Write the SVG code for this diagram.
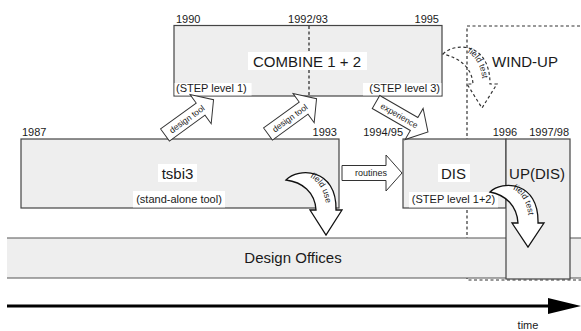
<svg xmlns="http://www.w3.org/2000/svg" xmlns:xlink="http://www.w3.org/1999/xlink" width="581" height="331" viewBox="0 0 581 331">
<style>
text{font-family:"Liberation Sans",Arial,sans-serif;fill:#1a1a1a}
.box{fill:#eeeeee;stroke:#444;stroke-width:1.2}
.big{font-size:15px;text-anchor:middle}
.sm{font-size:11px}
.yr{font-size:11px}
.lbl{font-size:8.5px;text-anchor:middle}
.bg{fill:#ffffff}
.blk{fill:#ffffff;stroke:#333;stroke-width:1}
.crv{fill:#ffffff;stroke:#111;stroke-width:1.3}
.dash{fill:none;stroke:#333;stroke-width:1.2;stroke-dasharray:3 2.5}
</style>
<defs>
<polygon id="blkarrow" points="0,-7.5 44,-7.5 44,-18 60,0 44,18 44,7.5 0,7.5"/>
<path id="pFu" d="M 290,177 C 307,170 326,180 327,214"/>
<path id="pFt1" d="M 494,190 C 510,183 529,191 529,225"/>
<path id="pFt2" d="M 446,52 C 462,45 482,53 483,86"/>
</defs>

<g id="windup">
<rect x="467" y="26" width="120" height="254" fill="#f9f9f9" class="dash"/>
<text class="big" x="525" y="67">WIND-UP</text>
</g>

<g id="combine">
<rect class="box" x="174" y="25.5" width="268" height="70.5"/>
<line x1="309" y1="26" x2="309" y2="95.5" stroke="#222" stroke-width="1.2" stroke-dasharray="3 2.5"/>
<rect class="bg" x="248" y="52" width="119" height="18"/>
<text class="big" x="307" y="67">COMBINE 1 + 2</text>
<rect class="bg" x="174.6" y="83" width="77" height="12.4"/>
<text class="sm" x="176" y="91.5">(STEP level 1)</text>
<rect class="bg" x="363" y="83" width="78.4" height="12.4"/>
<text class="sm" x="440" y="91.5" text-anchor="end">(STEP level 3)</text>
<text class="yr" x="176" y="23">1990</text>
<text class="yr" x="308" y="23" text-anchor="middle">1992/93</text>
<text class="yr" x="439" y="23" text-anchor="end">1995</text>
</g>

<g id="design-offices">
<rect x="7" y="238" width="580" height="40" fill="#eeeeee"/>
<line x1="7" y1="238" x2="581" y2="238" stroke="#555" stroke-width="1.2"/>
<line x1="7" y1="278" x2="581" y2="278" stroke="#555" stroke-width="1.2"/>
<text class="big" x="293" y="263">Design Offices</text>
</g>

<g id="tsbi3">
<rect class="box" x="21" y="139" width="318" height="69"/>
<rect class="bg" x="158" y="164" width="39" height="18"/>
<text class="big" x="177.5" y="179">tsbi3</text>
<rect class="bg" x="133" y="191" width="92" height="16.4"/>
<text class="sm" x="179" y="203" text-anchor="middle">(stand-alone tool)</text>
<text class="yr" x="22" y="136">1987</text>
<text class="yr" x="337" y="136" text-anchor="end">1993</text>
</g>

<g id="dis">
<rect class="box" x="403" y="139" width="103" height="69"/>
<rect class="bg" x="438" y="164" width="32" height="18"/>
<text class="big" x="453.5" y="179">DIS</text>
<rect class="bg" x="409" y="192" width="89" height="15.4"/>
<text class="sm" x="453.5" y="203" text-anchor="middle">(STEP level 1+2)</text>
<text class="yr" x="403" y="136" text-anchor="end">1994/95</text>
</g>

<g id="up-dis">
<rect class="box" x="506" y="139" width="64" height="140" fill="#e9e9e9"/>
<text class="big" x="537" y="179">UP(DIS)</text>
<text class="yr" x="505" y="136" text-anchor="middle">1996</text>
<text class="yr" x="569" y="136" text-anchor="end">1997/98</text>
</g>

<g id="connectors">
<use href="#blkarrow" class="blk" transform="translate(165,135) rotate(-36)"/>
<text class="lbl" transform="translate(165,135) rotate(-36)" x="27" y="3">design tool</text>
<use href="#blkarrow" class="blk" transform="translate(268,134) rotate(-36)"/>
<text class="lbl" transform="translate(268,134) rotate(-36)" x="27" y="3">design tool</text>
<use href="#blkarrow" class="blk" transform="translate(376,102) rotate(30)"/>
<text class="lbl" transform="translate(376,102) rotate(30)" x="27" y="3">experience</text>
<use href="#blkarrow" class="blk" transform="translate(342,173)"/>
<text class="lbl" x="371" y="176" style="font-size:9px">routines</text>

<path class="crv" d="M 286,180 C 298,167 337,168 336,210 L 342,210 L 326,235 L 310,210 L 316,210 C 315,192 302,182 286,180 Z"/>
<text class="lbl"><textPath href="#pFu" startOffset="58%">field use</textPath></text>

<path class="crv" d="M 490,192 C 502,180 539,181 538,223 L 544,223 L 528,247 L 512,223 L 518,223 C 517,206 506,195 490,192 Z"/>
<text class="lbl"><textPath href="#pFt1" startOffset="58%">field test</textPath></text>

<path class="dash" d="M 443,54 C 455,42 490,42 490,84 L 497,84 L 482,108 L 467,84 L 473,84 C 472,68 460,58 443,54 Z"/>
<text class="lbl"><textPath href="#pFt2" startOffset="62%">field test</textPath></text>

<line x1="7" y1="306" x2="550" y2="306" stroke="#000" stroke-width="3"/>
<polygon points="548,298 581,306 548,314" fill="#000"/>
</g>
<text x="528" y="329" style="font-size:11px" text-anchor="middle">time</text>
</svg>
